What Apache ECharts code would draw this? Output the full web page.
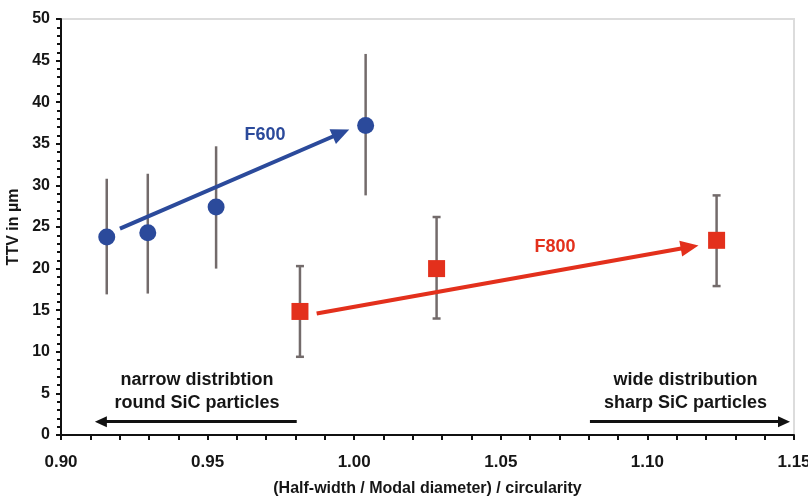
<!DOCTYPE html>
<html>
<head>
<meta charset="utf-8">
<script src="https://cdn.jsdelivr.net/npm/echarts@6/dist/echarts.min.js"></script>
<style>
  html, body { margin: 0; padding: 0; background: #fff; }
  #chart { width: 808px; height: 496px; }
</style>
</head>
<body>
<div id="chart"></div>
<script>
// F600 (circles)
const f600X  = [0.9156, 0.9296, 0.9529, 1.0039];
const f600Y  = [23.8, 24.3, 27.4, 37.2];
const f600Lo = [16.9, 17.0, 20.0, 28.8];
const f600Hi = [30.8, 31.4, 34.7, 45.8];

// F800 (squares)
const f800X  = [0.9815, 1.0281, 1.1236];
const f800Y  = [14.85, 20.0, 23.4];
const f800Lo = [9.4, 14.0, 17.9];
const f800Hi = [20.3, 26.2, 28.8];

// trend arrows [start, arrowhead centre]
const arrowF600   = [[0.9201, 24.8], [0.9955, 36.3]];
const arrowF800   = [[0.9872, 14.6], [1.1144, 22.6]];
const arrowNarrow = [[0.9804, 1.6], [0.9136, 1.6]];
const arrowWide   = [[1.0804, 1.6], [1.1466, 1.6]];

// annotations
const noteText = ['F600', 'F800', 'narrow distribtion\nround SiC particles', 'wide distribution\nsharp SiC particles'];
const noteX = [0.9696, 1.0685, 0.9464, 1.1130];
const noteY = [36.1, 22.6, 5.2, 5.2];

const BLUE = '#2b4a9b';
const RED = '#e3301c';
const GREY = '#736b6b';
const FONT = 'Liberation Sans, Arial, sans-serif';

function errorBars(xs, los, his) {
    return xs.map((x, i) => [x, los[i], his[i]]);
}

function errRender(cap) {
    return function (params, api) {
        const top = api.coord([api.value(0), api.value(2)]);
        const bot = api.coord([api.value(0), api.value(1)]);
        const style = { stroke: GREY, lineWidth: 2.5 };
        const children = [{ type: 'line', shape: { x1: top[0], y1: top[1], x2: bot[0], y2: bot[1] }, style: style }];
        if (cap) {
            children.push({ type: 'line', shape: { x1: top[0] - 4, y1: top[1], x2: top[0] + 4, y2: top[1] }, style: style });
            children.push({ type: 'line', shape: { x1: bot[0] - 4, y1: bot[1], x2: bot[0] + 4, y2: bot[1] }, style: style });
        }
        return { type: 'group', children: children };
    };
}

function arrow(pts, color, width, size) {
    return {
        silent: true,
        symbol: ['none', 'triangle'],
        symbolSize: size,
        label: { show: false },
        emphasis: { disabled: true },
        lineStyle: { color: color, width: width, type: 'solid' },
        data: [[{ coord: pts[0] }, { coord: pts[1] }]]
    };
}

const noteColors = [BLUE, RED, '#161616', '#161616'];
const noteSizes = [18, 18, 18, 18];

let myChart = echarts.init(document.getElementById('chart'));
let option = {
    animation: false,
    grid: {
        left: 61, right: 14, top: 19, bottom: 61,
        containLabel: false, outerBoundsMode: 'none',
        show: true, borderColor: '#dcdcdc', borderWidth: 2
    },
    xAxis: {
        type: 'value',
        min: 0.9, max: 1.15, interval: 0.05,
        name: '(Half-width / Modal diameter) / circularity',
        nameLocation: 'middle',
        nameGap: 46,
        nameTextStyle: { color: '#161616', fontWeight: 'bold', fontSize: 16, fontFamily: FONT },
        axisLine: { show: true, onZero: false, lineStyle: { color: '#111', width: 2 } },
        axisTick: { show: true, length: 5, lineStyle: { color: '#111', width: 2 } },
        minorTick: { show: true, splitNumber: 5, length: 5, lineStyle: { color: '#111', width: 2 } },
        axisLabel: {
            color: '#161616', fontWeight: 'bold', fontSize: 17, fontFamily: FONT, margin: 19,
            formatter: v => v.toFixed(2)
        },
        splitLine: { show: false }
    },
    yAxis: {
        type: 'value',
        min: 0, max: 50, interval: 5,
        name: 'TTV in µm',
        nameLocation: 'middle',
        nameGap: 37,
        nameTextStyle: { color: '#161616', fontWeight: 'bold', fontSize: 16, fontFamily: FONT },
        axisLine: { show: true, onZero: false, lineStyle: { color: '#111', width: 2 } },
        axisTick: { show: true, length: 5, lineStyle: { color: '#111', width: 2 } },
        minorTick: { show: true, splitNumber: 5, length: 4, lineStyle: { color: '#111', width: 2 } },
        axisLabel: { color: '#161616', fontWeight: 'bold', fontSize: 16, fontFamily: FONT, margin: 11 },
        splitLine: { show: false }
    },
    series: [
        {
            name: 'errF600', type: 'custom', silent: true,
            renderItem: errRender(false),
            data: errorBars(f600X, f600Lo, f600Hi),
            z: 2
        },
        {
            name: 'errF800', type: 'custom', silent: true,
            renderItem: errRender(true),
            data: errorBars(f800X, f800Lo, f800Hi),
            z: 2
        },
        {
            name: 'F600', type: 'scatter', symbol: 'circle', symbolSize: 17,
            itemStyle: { color: BLUE, opacity: 1 },
            data: f600X.map((x, i) => [x, f600Y[i]]),
            markLine: arrow(arrowF600, BLUE, 4, [16, 18]),
            z: 3
        },
        {
            name: 'F800', type: 'scatter', symbol: 'rect', symbolSize: 17,
            itemStyle: { color: RED, opacity: 1 },
            data: f800X.map((x, i) => [x, f800Y[i]]),
            markLine: arrow(arrowF800, RED, 4, [16, 18]),
            z: 3
        },
        {
            name: 'notes', type: 'scatter', symbolSize: 0, silent: true,
            itemStyle: { opacity: 1 },
            data: noteText.map((t, i) => ({
                value: [noteX[i], noteY[i]],
                name: t,
                label: { color: noteColors[i], fontSize: noteSizes[i] }
            })),
            label: {
                show: true, position: 'inside', formatter: '{b}', opacity: 1,
                textBorderWidth: 0,
                fontWeight: 'bold', fontFamily: FONT, lineHeight: 23, align: 'center', verticalAlign: 'middle'
            },
            markLine: {
                silent: true,
                symbol: ['none', 'triangle'],
                symbolSize: [11, 12],
                label: { show: false },
                emphasis: { disabled: true },
                lineStyle: { color: '#111', width: 3, type: 'solid' },
                data: [
                    [{ coord: arrowNarrow[0] }, { coord: arrowNarrow[1] }],
                    [{ coord: arrowWide[0] }, { coord: arrowWide[1] }]
                ]
            },
            z: 4
        }
    ]
};
myChart.setOption(option);
</script>
</body>
</html>
